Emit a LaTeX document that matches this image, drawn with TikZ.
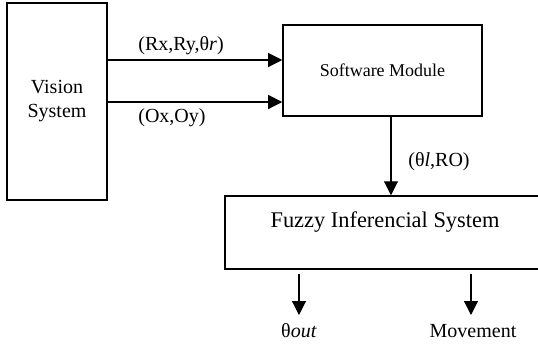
\documentclass[tikz,border=0pt]{standalone}
\usepackage{fontspec}
\setmainfont{Liberation Serif}
\usetikzlibrary{arrows.meta}
\tikzset{
  blok/.style={draw, line width=0.75pt, inner sep=0pt, align=center},
  sig/.style={line width=0.55pt, -{Triangle[length=7pt,width=7pt]}},
  lbl/.style={inner sep=0pt, font=\fontsize{10}{12}\selectfont}
}
\begin{document}
\begin{tikzpicture}[x=0.5pt, y=-0.5pt]
	\useasboundingbox (0,0) rectangle (538,344);
	\clip (0,0) rectangle (538,344);
	% blocks
	\node [blok, minimum width=50pt, minimum height=98.5pt, font=\fontsize{10}{12}\selectfont] (vis) at (57,101.5) {Vision\\System};
	\node [blok, minimum width=99.5pt, minimum height=45.5pt, font=\fontsize{9}{11}\selectfont] (sw) at (382.5,70.5) {Software Module};
	\node [blok, minimum width=160pt, text height=15.5pt, text depth=21pt, font=\fontsize{11.2}{13}\selectfont] (fis) at (385,232.5) {Fuzzy Inferencial System};
	% inputs of the software module
	\path ([yshift=5.25pt]sw.west) coordinate (in1) ([yshift=-15.75pt]sw.west) coordinate (in2);
	\draw [sig] (vis.east |- in1) -- (in1);
	\draw [sig] (vis.east |- in2) -- (in2);
	\node [lbl, anchor=west] (rpos) at (138,46) {(Rx,Ry,θ\textit{r})};
	\node [lbl, anchor=west] (opos) at (138,118) {(Ox,Oy)};
	% software module to fuzzy system
	\path ([xshift=4.25pt]sw.south) coordinate (sw2);
	\draw [sig] (sw2) -- (sw2 |- fis.north);
	\node [lbl, anchor=west] (trl) at (408,162) {(θ\textit{l},RO)};
	% outputs
	\node [lbl, text height=7pt, text depth=2pt, inner ysep=4pt, anchor=north] (tout) at (299,315) {θ\textit{out}};
	\node [lbl, text height=7pt, text depth=2pt, inner ysep=4pt, anchor=north] (mov) at (473,315) {Movement};
	\draw [sig] ([xshift=-43pt, yshift=-2pt]fis.south) -- (tout.north);
	\draw [sig] ([xshift=43pt, yshift=-2pt]fis.south) -- ([xshift=43pt]fis.south |- mov.north);
\end{tikzpicture}
\end{document}
